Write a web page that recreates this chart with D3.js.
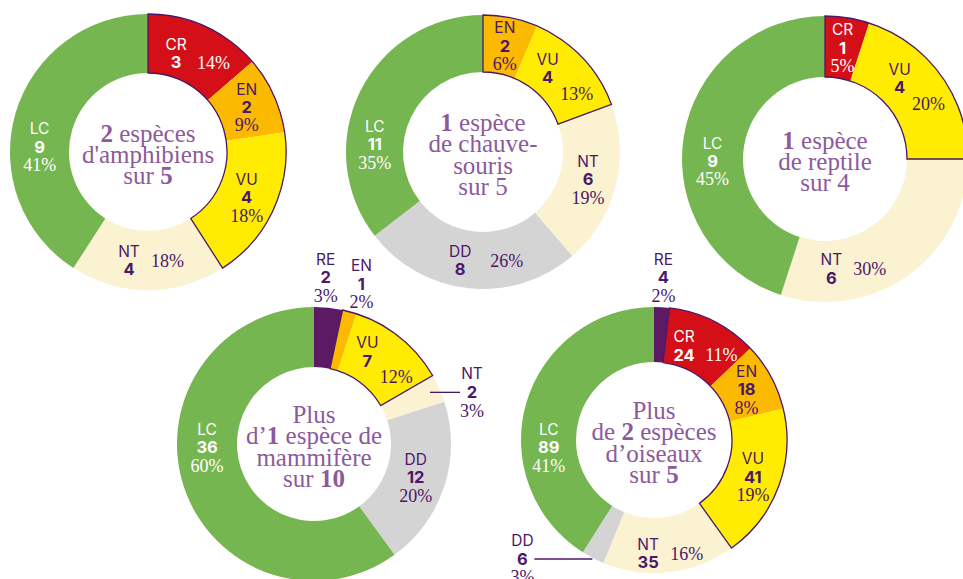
<!DOCTYPE html>
<html><head><meta charset="utf-8">
<script src="https://cdn.jsdelivr.net/npm/d3@7"></script>
<style>body{margin:0;background:#fff}svg{display:block}</style>
</head><body><svg id="c" width="963" height="579"></svg>
<script>
// ---- data ----
const amphCats = ["CR","EN","VU","NT","LC"];
const amphValues = [3,2,4,4,9];
const amphPcts = [14,9,18,18,41];
const amphTitle = ["**2** espèces","d'amphibiens","sur **5**"];

const batCats = ["EN","VU","NT","DD","LC"];
const batValues = [2,4,6,8,11];
const batPcts = [6,13,19,26,35];
const batTitle = ["**1** espèce","de chauve-","souris","sur 5"];

const reptCats = ["CR","VU","NT","LC"];
const reptValues = [1,4,6,9];
const reptPcts = [5,20,30,45];
const reptTitle = ["**1** espèce","de reptile","sur 4"];

const mamCats = ["RE","EN","VU","NT","DD","LC"];
const mamValues = [2,1,7,2,12,36];
const mamPcts = [3,2,12,3,20,60];
const mamTitle = ["Plus","d’**1** espèce de","mammifère","sur **10**"];

const birdCats = ["RE","CR","EN","VU","NT","DD","LC"];
const birdValues = [4,24,18,41,35,6,89];
const birdPcts = [2,11,8,19,16,3,41];
const birdTitle = ["Plus","de **2** espèces","d’oiseaux","sur **5**"];

const threatened = ["CR","EN","VU"];

// ---- styles / layout ----
const colors = {RE:"#5c1a64",CR:"#d40f17",EN:"#fbb900",VU:"#ffec00",NT:"#faf2d0",DD:"#d4d4d4",LC:"#76b650"};
const whiteText = {CR:true, LC:true};
const INK = "#4b1768", TITLE = "#8c5a9c";
const SANS = "Inter, 'Noto Sans', sans-serif", SERIF = "'Liberation Serif', 'DejaVu Serif', serif";

const charts = [
  {cats:amphCats, values:amphValues, pcts:amphPcts, title:amphTitle, cx:148, cy:152, R:138, r:79,
   labels:{CR:{m:"side"},EN:{m:"stack"},VU:{m:"stack"},NT:{m:"sideMid"},LC:{m:"stack",a:272.7}}},
  {cats:batCats, values:batValues, pcts:batPcts, title:batTitle, cx:483, cy:152, R:137, r:80,
   labels:{EN:{m:"stack"},VU:{m:"diag"},NT:{m:"stack"},DD:{m:"sideMid",a:182,gap:8},LC:{m:"stack",a:274}}},
  {cats:reptCats, values:reptValues, pcts:reptPcts, title:reptTitle, cx:825, cy:159, R:143, r:82,
   labels:{CR:{m:"stack"},VU:{m:"diag",a:51,rr:114},NT:{m:"sideMid",a:167},LC:{m:"stack",a:269}}},
  {cats:mamCats, values:mamValues, pcts:mamPcts, title:mamTitle, cx:314, cy:444, R:137, r:77,
   labels:{RE:{m:"out",a:4},EN:{m:"out",a:16.5},VU:{m:"diag"},NT:{m:"leader",lr:-10,len:30,dir:1},DD:{m:"stack"},LC:{m:"stack",a:268.3}}},
  {cats:birdCats, values:birdValues, pcts:birdPcts, title:birdTitle, cx:654, cy:440, R:133, r:78,
   labels:{RE:{m:"out"},CR:{m:"side"},EN:{m:"stack"},VU:{m:"stack"},NT:{m:"sideMid",rr:114},DD:{m:"leader",lr:1,len:58,dir:-1},LC:{m:"stack",a:266}}}
];

const svg = d3.select("#c");
const rad = d => d*Math.PI/180;

function txt(g, x, y, s, fs, fam, weight, fill, anchor){
  g.append("text").attr("x",x).attr("y",y+0.36*fs)
   .attr("font-size",fs).attr("font-family",fam).attr("font-weight",weight)
   .attr("fill",fill).attr("text-anchor",anchor||"middle").text(s);
}

charts.forEach(c=>{
  const data = c.cats.map((k,i)=>({cat:k, v:c.values[i], p:c.pcts[i]}));
  const pie = d3.pie().sort(null).value(d=>d.v);
  const arcs = pie(data);
  const arc = d3.arc().innerRadius(c.r).outerRadius(c.R);
  const g = svg.append("g").attr("transform",`translate(${c.cx},${c.cy})`);

  g.selectAll("path.slice").data(arcs).join("path").attr("class","slice")
    .attr("d",arc).attr("fill",d=>colors[d.data.cat]);

  // outline around threatened group
  const th = arcs.filter(d=>threatened.includes(d.data.cat));
  if(th.length){
    g.append("path").attr("d",arc({startAngle:d3.min(th,d=>d.startAngle),endAngle:d3.max(th,d=>d.endAngle)}))
     .attr("fill","none").attr("stroke",INK).attr("stroke-width",1.3).attr("stroke-linejoin","miter");
  }

  // labels
  const mid = (c.r+c.R)/2;
  arcs.forEach(d=>{
    const L = c.labels[d.data.cat] || {m:"stack"};
    const ang = L.a!==undefined ? rad(L.a) : (d.startAngle+d.endAngle)/2;
    const col = whiteText[d.data.cat] ? "#fff" : INK;
    const cat = d.data.cat, num = String(d.data.v), pct = d.data.p+"%";
    const fsC=15.5, fsN=16.5, fsP=18;
    let rr = L.rr || mid;
    if(L.m==="out") rr = c.R+30;
    if(L.m==="leader") rr = c.R + L.lr;
    const ax = rr*Math.sin(ang), ay = -rr*Math.cos(ang);
    if(L.m==="stack" || L.m==="out"){
      txt(g,ax,ay-18,cat,fsC,SANS,400,col);
      txt(g,ax,ay,num,fsN,SANS,700,col);
      txt(g,ax,ay+18,pct,fsP,SERIF,400,col);
    } else if(L.m==="side"){
      txt(g,ax-17,ay-9,cat,fsC,SANS,400,col);
      txt(g,ax-17,ay+9,num,fsN,SANS,700,col);
      txt(g,ax+4,ay+9,pct,fsP,SERIF,400,col,"start");
    } else if(L.m==="sideMid"){
      const gap = L.gap||0;
      txt(g,ax-19,ay-9,cat,fsC,SANS,400,col);
      txt(g,ax-19,ay+9,num,fsN,SANS,700,col);
      txt(g,ax+3+gap,ay,pct,fsP,SERIF,400,col,"start");
    } else if(L.m==="diag"){
      txt(g,ax-14,ay-18,cat,fsC,SANS,400,col);
      txt(g,ax-14,ay,num,fsN,SANS,700,col);
      txt(g,ax+15,ay+16,pct,fsP,SERIF,400,col);
    } else if(L.m==="leader"){
      const ex = ax + L.dir*L.len;
      g.append("line").attr("x1",ax).attr("y1",ay).attr("x2",ex).attr("y2",ay)
        .attr("stroke",INK).attr("stroke-width",1.3);
      const tx = ex + L.dir*12;
      txt(g,tx,ay-19,cat,fsC,SANS,400,INK);
      txt(g,tx,ay,num,fsN,SANS,700,INK);
      txt(g,tx,ay+18,pct,fsP,SERIF,400,INK);
    }
  });

  // center title
  const n = c.title.length, lh = 21.3;
  c.title.forEach((line,i)=>{
    const t = g.append("text").attr("x",0).attr("y",(i-(n-1)/2)*lh+11)
      .attr("text-anchor","middle").attr("font-family",SERIF).attr("font-size",25).attr("fill",TITLE);
    line.split("**").forEach((part,j)=>{
      if(part) t.append("tspan").attr("font-weight", j%2 ? 700 : 400).text(part);
    });
  });
});
</script></body></html>
